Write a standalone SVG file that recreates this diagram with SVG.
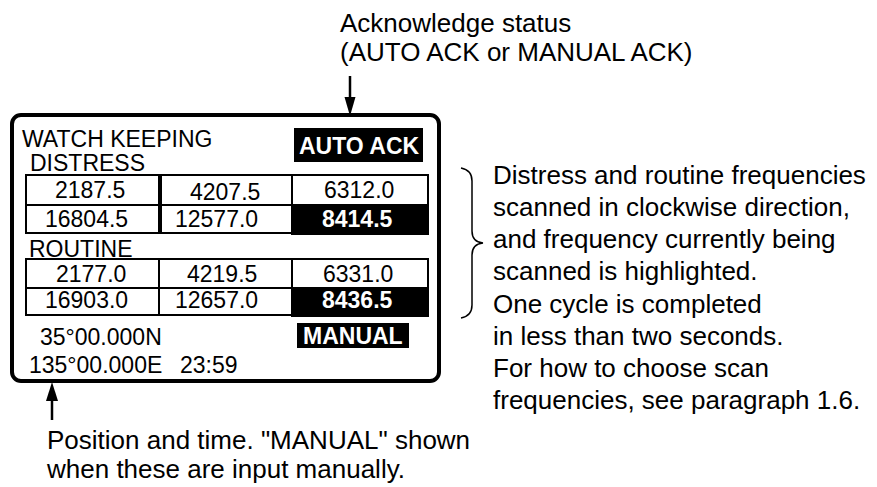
<svg xmlns="http://www.w3.org/2000/svg" width="877" height="487" viewBox="0 0 877 487">
<style>
.t{font-family:"Liberation Sans",Arial,sans-serif;font-size:23px;fill:#000}
.a{font-family:"Liberation Sans",Arial,sans-serif;font-size:26px;fill:#000}
.b{font-family:"Liberation Sans",Arial,sans-serif;font-size:23px;font-weight:bold;fill:#fff}
.cell{fill:#fff;stroke:#000;stroke-width:2}
.hl{fill:#000;stroke:#000;stroke-width:2}
.ln{stroke:#000;stroke-width:2.5;fill:none}
</style>
<rect width="877" height="487" fill="#fff"/>
<g id="panel">
<rect x="12" y="115" width="427" height="266" rx="9" fill="#fff" stroke="#000" stroke-width="4"/>
<text class="t" x="22" y="147">WATCH KEEPING</text>
<rect x="294" y="128" width="129" height="34" fill="#000"/>
<text class="b" x="299" y="154">AUTO ACK</text>
<text class="t" x="30" y="171">DISTRESS</text>
</g>
<g id="distress-table">
<rect class="cell" x="26" y="175" width="133" height="30"/>
<rect class="cell" x="161" y="175" width="131" height="30"/>
<rect class="cell" x="292" y="175" width="136" height="30"/>
<rect class="cell" x="26" y="205" width="133" height="28"/>
<rect class="cell" x="161" y="205" width="131" height="28"/>
<rect class="hl" x="292" y="205" width="136" height="29"/>
<text class="t" x="55" y="198">2187.5</text>
<text class="t" x="190" y="200">4207.5</text>
<text class="t" x="324" y="198">6312.0</text>
<text class="t" x="45" y="227">16804.5</text>
<text class="t" x="175" y="227">12577.0</text>
<text class="b" x="322" y="227">8414.5</text>
</g>
<g id="routine-table">
<text class="t" x="29" y="257">ROUTINE</text>
<rect class="cell" x="26" y="259" width="133" height="29"/>
<rect class="cell" x="159" y="259" width="133" height="29"/>
<rect class="cell" x="292" y="259" width="136" height="29"/>
<rect class="cell" x="26" y="288" width="133" height="27"/>
<rect class="cell" x="159" y="288" width="133" height="27"/>
<rect class="hl" x="292" y="288" width="136" height="28"/>
<text class="t" x="56" y="282">2177.0</text>
<text class="t" x="187" y="282">4219.5</text>
<text class="t" x="323" y="282">6331.0</text>
<text class="t" x="45" y="308">16903.0</text>
<text class="t" x="175" y="308">12657.0</text>
<text class="b" x="322" y="308">8436.5</text>
</g>
<g id="position">
<text class="t" x="40" y="345">35°00.000N</text>
<rect x="297" y="323" width="112" height="25" fill="#000"/>
<text class="b" x="303" y="344">MANUAL</text>
<text class="t" x="29" y="373">135°00.000E</text>
<text class="t" x="180" y="373">23:59</text>
</g>
<g id="annotations">
<text class="a" x="340" y="32">Acknowledge status</text>
<text class="a" x="340" y="61">(AUTO ACK or MANUAL ACK)</text>
<text class="a" x="493" y="184">Distress and routine frequencies</text>
<text class="a" x="493" y="216">scanned in clockwise direction,</text>
<text class="a" x="493" y="248">and frequency currently being</text>
<text class="a" x="493" y="280">scanned is highlighted.</text>
<text class="a" x="493" y="313">One cycle is completed</text>
<text class="a" x="493" y="345">in less than two seconds.</text>
<text class="a" x="493" y="377">For how to choose scan</text>
<text class="a" x="493" y="409">frequencies, see paragraph 1.6.</text>
<text class="a" x="47" y="449">Position and time. "MANUAL" shown</text>
<text class="a" x="47" y="478">when these are input manually.</text>
</g>
<g id="connectors">
<line class="ln" x1="350" y1="76" x2="350" y2="100"/>
<polygon points="344.5,97 355.5,97 350,116" fill="#000"/>
<line class="ln" x1="52" y1="398" x2="52" y2="420"/>
<polygon points="46,401 58,401 52,382" fill="#000"/>
<path d="M461,168 Q472,170 472,181 L472,231 Q472,242 483,243 Q472,244 472,255 L472,305 Q472,316 461,318" fill="none" stroke="#000" stroke-width="1.5"/>
</g>
</svg>
